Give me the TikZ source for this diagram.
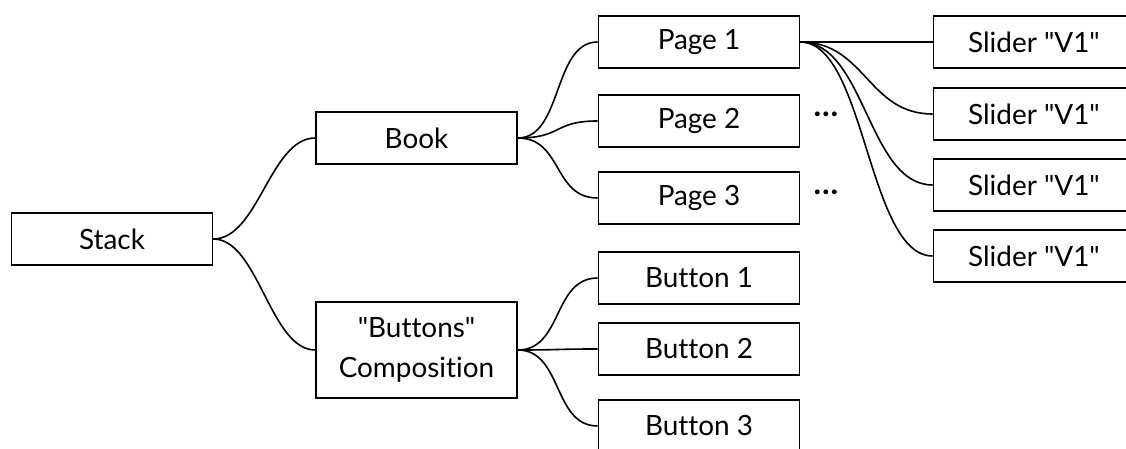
\documentclass[tikz,border=0pt]{standalone}
\usepackage{fontspec}
\newfontfamily\lato{Lato}[Ligatures={NoCommon}]
\begin{document}
\begin{tikzpicture}[x=1bp,y=-1bp,
  box/.style={draw=black,line width=1.6bp,rectangle,minimum width=201bp,minimum height=52bp,inner sep=0pt,font=\lato\fontsize{28}{40}\selectfont,align=center},
  link/.style={line width=1.6bp,black}]
\clip (0,0) rectangle (1126,449);
\useasboundingbox (0,0) rectangle (1126,449);
\node[box] (stack) at (112,239) {Stack};
\node[box] (book) at (416.5,138) {Book};
\node[box,minimum height=96bp] (comp) at (416.5,350) {"Buttons"\\Composition};
\node[box] (p1) at (699,42) {Page 1};
\node[box] (p2) at (699,121) {Page 2};
\node[box] (p3) at (699,198) {Page 3};
\node[box] (b1) at (699,278) {Button 1};
\node[box] (b2) at (699,349) {Button 2};
\node[box] (b3) at (699,426) {Button 3};
\node[box] (s1) at (1034,42) {Slider "V1"};
\node[box] (s2) at (1034,114) {Slider "V1"};
\node[box] (s3) at (1034,185) {Slider "V1"};
\node[box] (s4) at (1034,256) {Slider "V1"};
\node[font=\lato\fontsize{32}{36}\bfseries\selectfont] (d2) at (826,114) {…};
\node[font=\lato\fontsize{32}{36}\bfseries\selectfont] (d3) at (826,192) {…};
\foreach \a/\b in {stack/book,stack/comp,book/p1,book/p2,book/p3,comp/b1,comp/b2,comp/b3}
  \draw[link] (\a.east) .. controls +(45,0) and +(-45,0) .. (\b.west);
\foreach \b in {s1,s2,s3,s4}
  \draw[link] (p1.east) .. controls +(65,0) and +(-65,0) .. (\b.west);
\end{tikzpicture}
\end{document}
